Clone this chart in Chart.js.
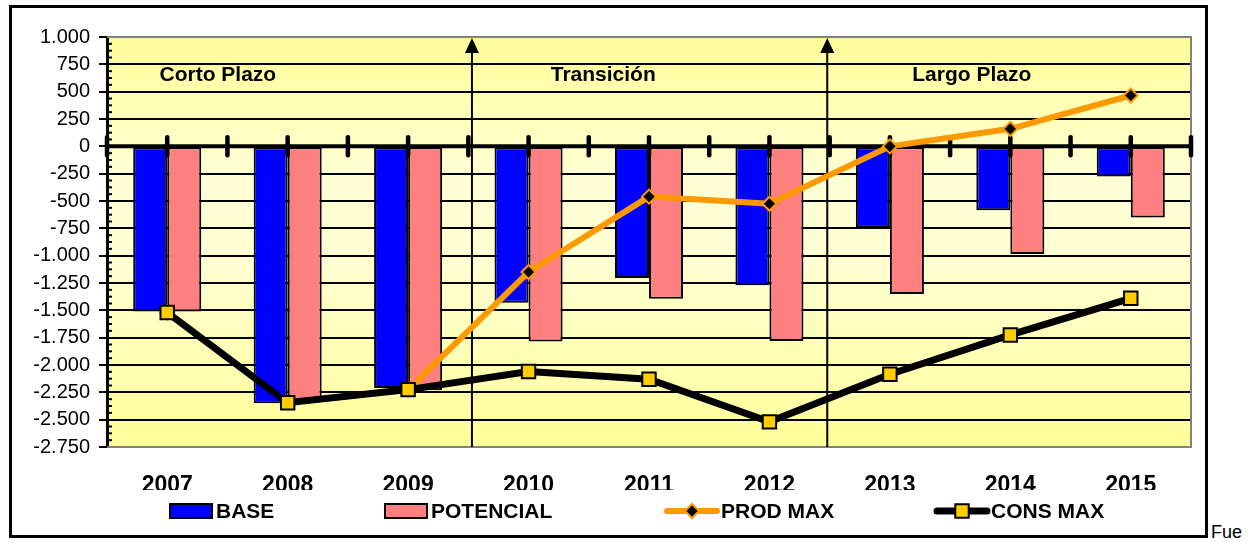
<!DOCTYPE html>
<html>
<head>
<meta charset="utf-8">
<script src="https://cdn.jsdelivr.net/npm/chart.js@4.4.0/dist/chart.umd.min.js"></script>
<style>
  html, body { margin: 0; padding: 0; background: #fff; overflow: hidden; }
  body { width: 1257px; height: 542px; position: relative; font-family: Arial, "Liberation Sans", sans-serif; }
  #box { position: absolute; left: 9px; top: 5px; width: 1193px; height: 527px; border: 3px solid #000; }
  #box canvas { display: block; }
  #fue { position: absolute; left: 1211px; top: 522px; font-size: 18px; white-space: nowrap; }
</style>
</head>
<body>
<div id="box"><canvas id="myChart" width="1193" height="527"></canvas></div>
<div id="fue">Fue</div>
<script>
// data
var years = ['2007', '2008', '2009', '2010', '2011', '2012', '2013', '2014', '2015'];
var base = [-1510, -2350, -2210, -1430, -1205, -1270, -740, -585, -275];
var potencial = [-1510, -2330, -2230, -1785, -1395, -1780, -1350, -985, -650];
var prodMax = [-1520, -2345, -2225, -1150, -460, -525, 0, 160, 465];
var consMax = [-1520, -2345, -2225, -2060, -2130, -2520, -2085, -1725, -1390];
var yTicks = [1000, -2750, 250]; // max, min, step
var periods = ['Corto Plazo', 'Transición', 'Largo Plazo'];

var FONT = 'Arial, "Liberation Sans", sans-serif';

function fmt(v) {
  var s = Math.abs(v).toString().replace(/\B(?=(\d{3})+(?!\d))/g, '.');
  return (v < 0 ? '-' : '') + s;
}

// where the period labels / arrows sit, in category units
var periodAt = [0.42, 3.62, 6.68];
var arrowAt = [2.53, 5.48];

var excelLook = {
  id: 'excelLook',
  beforeDraw: function(chart) {
    var a = chart.chartArea, c = chart.ctx;
    var g = c.createLinearGradient(0, a.top, 0, a.bottom);
    g.addColorStop(0, '#FFFF99');
    g.addColorStop(0.35, '#FFFFD6');
    g.addColorStop(0.55, '#FFFFD2');
    g.addColorStop(1, '#FFFF99');
    c.save();
    c.fillStyle = g;
    c.fillRect(a.left, a.top, a.right - a.left, a.bottom - a.top);
    c.restore();
  },
  beforeDatasetsDraw: function(chart) {
    var a = chart.chartArea, c = chart.ctx;
    var xs = chart.scales.x, ys = chart.scales.y;
    c.save();
    // grey frame
    c.strokeStyle = '#808080';
    c.lineWidth = 2;
    c.beginPath();
    c.moveTo(a.left, a.top); c.lineTo(a.right, a.top);
    c.lineTo(a.right, a.bottom); c.lineTo(a.left, a.bottom);
    c.stroke();
    // arrows
    c.strokeStyle = '#000';
    c.fillStyle = '#000';
    arrowAt.forEach(function(p) {
      var x = xs.getPixelForValue(p);
      c.lineWidth = 2;
      c.beginPath();
      c.moveTo(x, a.bottom); c.lineTo(x, a.top + 10);
      c.stroke();
      c.beginPath();
      c.moveTo(x, a.top + 1); c.lineTo(x - 7, a.top + 16); c.lineTo(x + 7, a.top + 16);
      c.closePath();
      c.fill();
    });
    // period labels
    c.font = 'bold 21px ' + FONT;
    c.textAlign = 'center';
    c.textBaseline = 'middle';
    periods.forEach(function(t, i) {
      c.fillText(t, xs.getPixelForValue(periodAt[i]), ys.getPixelForValue(650));
    });
    // minor ticks on the value axis
    c.lineWidth = 2;
    for (var v = yTicks[1]; v < yTicks[0]; v += yTicks[2] / 4) {
      if (v % yTicks[2] === 0) continue;
      var y = ys.getPixelForValue(v);
      c.beginPath();
      c.moveTo(a.left, y); c.lineTo(a.left + 5, y);
      c.stroke();
    }
    c.restore();
  },
  afterDatasetDraw: function(chart, args) {
    if (args.index !== 0) return;
    // zero axis drawn over the bars, under the lines
    var a = chart.chartArea, c = chart.ctx;
    var xs = chart.scales.x, y0 = chart.scales.y.getPixelForValue(0);
    c.save();
    c.strokeStyle = '#000';
    c.lineWidth = 4;
    c.beginPath();
    c.moveTo(a.left, y0); c.lineTo(a.right, y0);
    c.stroke();
    c.lineCap = 'round';
    c.lineWidth = 4.5;
    for (var i = -0.5; i <= years.length - 0.5; i += 0.5) {
      var x = xs.getPixelForValue(i);
      c.beginPath();
      c.moveTo(x, y0 - 9); c.lineTo(x, y0 + 9);
      c.stroke();
    }
    c.restore();
  },
  afterDraw: function(chart) {
    var c = chart.ctx, ds = chart.data.datasets;
    c.save();
    // x labels are cut off at the bottom in the original
    c.fillStyle = '#fff';
    c.fillRect(0, 482, chart.width, 12);
    // legend
    var ly = 503;
    var lx = [158, 373, 653, 923];
    c.font = 'bold 21px ' + FONT;
    c.textBaseline = 'middle';
    c.textAlign = 'left';
    ds.forEach(function(d, i) {
      var x = lx[i];
      if (d.type === 'bar') {
        c.fillStyle = d.backgroundColor;
        c.fillRect(x, ly - 7, 42, 14);
        c.strokeStyle = '#000';
        c.lineWidth = 2;
        c.strokeRect(x, ly - 7, 42, 14);
      } else {
        c.strokeStyle = d.borderColor;
        c.lineWidth = d.borderWidth;
        c.lineCap = 'round';
        c.beginPath();
        c.moveTo(x + 2, ly); c.lineTo(x + 52, ly);
        c.stroke();
        c.fillStyle = d.pointBackgroundColor;
        c.strokeStyle = d.pointBorderColor;
        c.lineWidth = d.pointBorderWidth;
        c.beginPath();
        if (d.pointStyle === 'rect') {
          var s = d.pointRadius * Math.SQRT1_2;
          c.rect(x + 27 - s, ly - s, 2 * s, 2 * s);
        } else {
          var r = d.pointRadius;
          c.moveTo(x + 27, ly - r); c.lineTo(x + 27 + r, ly);
          c.lineTo(x + 27, ly + r); c.lineTo(x + 27 - r, ly);
          c.closePath();
        }
        c.fill();
        c.stroke();
      }
      c.fillStyle = '#000';
      c.fillText(d.label, x + (d.type === 'bar' ? 46 : 56), ly + 1);
    });
    c.restore();
  }
};

var ctx = document.getElementById('myChart').getContext('2d');
var myChart = new Chart(ctx, {
  data: {
    labels: years,
    datasets: [{
      type: 'bar',
      label: 'BASE',
      data: base,
      backgroundColor: '#0000FF',
      borderColor: '#000',
      borderWidth: 2,
      borderSkipped: false,
      order: 2
    },
    {
      type: 'bar',
      label: 'POTENCIAL',
      data: potencial,
      backgroundColor: '#FF8080',
      borderColor: '#000',
      borderWidth: 2,
      borderSkipped: false,
      order: 2
    },
    {
      type: 'line',
      label: 'PROD MAX',
      data: prodMax,
      borderColor: '#FF9900',
      borderWidth: 6,
      tension: 0,
      pointStyle: 'rectRot',
      pointRadius: 7,
      pointBackgroundColor: '#000',
      pointBorderColor: '#FF9900',
      pointBorderWidth: 2,
      order: 1
    },
    {
      type: 'line',
      label: 'CONS MAX',
      data: consMax,
      borderColor: '#000',
      borderWidth: 7,
      tension: 0,
      pointStyle: 'rect',
      pointRadius: 9.5,
      pointBackgroundColor: '#FFCC00',
      pointBorderColor: '#000',
      pointBorderWidth: 2,
      order: 0
    }]
  },
  options: {
    responsive: false,
    animation: false,
    layout: { padding: { left: 0, top: 29, right: 14, bottom: 0 } },
    datasets: {
      bar: { categoryPercentage: 0.565, barPercentage: 1 }
    },
    plugins: {
      legend: { display: false },
      tooltip: { enabled: false }
    },
    scales: {
      x: {
        grid: { display: false, drawTicks: false },
        border: { display: false },
        ticks: {
          color: '#000',
          padding: 25,
          font: { family: FONT, size: 23, weight: 'bold' }
        },
        afterFit: function(s) { s.height = 88; }
      },
      y: {
        min: yTicks[1],
        max: yTicks[0],
        grid: { color: '#000', lineWidth: 2, tickLength: 8 },
        border: { color: '#000', width: 3 },
        ticks: {
          stepSize: yTicks[2],
          color: '#000',
          padding: 9,
          font: { family: FONT, size: 20 },
          callback: function(v) { return fmt(v); }
        },
        afterFit: function(s) { s.width = 95; }
      }
    }
  },
  plugins: [excelLook]
});
</script>
</body>
</html>
